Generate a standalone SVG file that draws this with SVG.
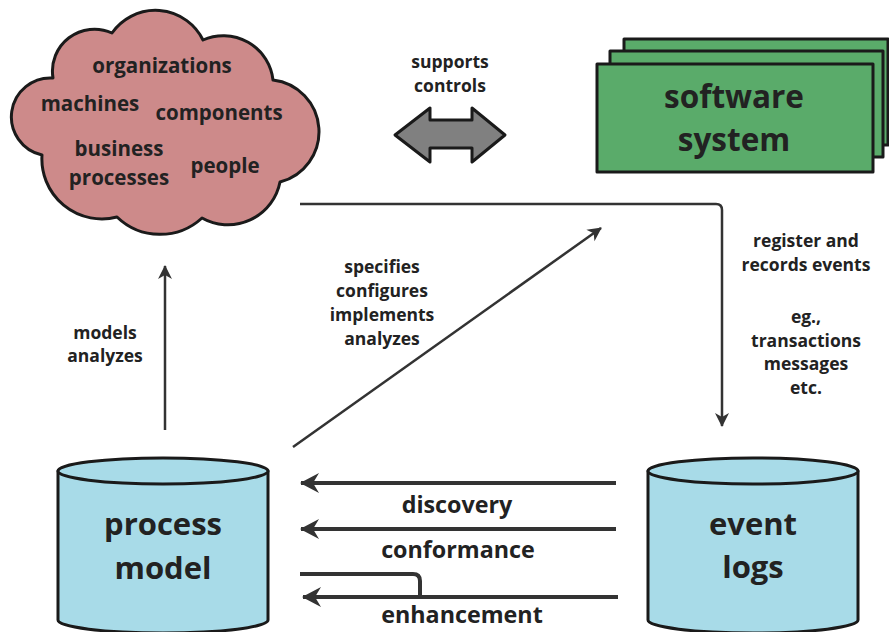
<svg xmlns="http://www.w3.org/2000/svg" width="889" height="632" viewBox="0 0 889 632">
  <style>
    .t { font-family: "Open Sans", "DejaVu Sans", sans-serif; font-weight: 700; fill: #222; text-anchor: middle; }
    .s16 { font-size: 17.5px; }
    .s18 { font-size: 20.5px; }
    .s22 { font-size: 23.3px; }
    .s29 { font-size: 31.5px; }
    .s30 { font-size: 31px; }
    .outline { stroke: #1a1a1a; stroke-width: 3; stroke-linejoin: round; }
    .thin { fill: none; stroke: #333; stroke-width: 2.5; }
    .thick { fill: none; stroke: #333; stroke-width: 4; }
  </style>
  <defs>
    <marker id="headS" viewBox="-14 -8 16 16" markerWidth="16" markerHeight="16" refX="0" refY="0" orient="auto" markerUnits="userSpaceOnUse">
      <path d="M1,0 L-13,-7 L-9,0 L-13,7 Z" fill="#333"/>
    </marker>
    <marker id="headL" viewBox="-20 -12 22 24" markerWidth="22" markerHeight="24" refX="0" refY="0" orient="auto" markerUnits="userSpaceOnUse">
      <path d="M1,0 L-18,-10 L-12,0 L-18,10 Z" fill="#333"/>
    </marker>
  </defs>

  <!-- real world cloud -->
  <g id="world">
    <path class="outline" fill="#cd8a8a" d="M53,78 A42,42 0 0 1 112,33 A53,53 0 0 1 203,40 A50,50 0 0 1 273,80 A52,52 0 0 1 280,182 A53,53 0 0 1 202,218 A62,62 0 0 1 117,217 A60,60 0 0 1 42,155 A39,39 0 0 1 53,78 Z"/>
    <text class="t s18" x="162" y="73">organizations</text>
    <text class="t s18" x="90" y="111">machines</text>
    <text class="t s18" x="219" y="120">components</text>
    <text class="t s18" x="119" y="156">business</text>
    <text class="t s18" x="119" y="185">processes</text>
    <text class="t s18" x="225" y="173">people</text>
  </g>

  <!-- two-way interaction between world and software -->
  <g id="interaction">
    <text class="t s16" x="450" y="68">supports</text>
    <text class="t s16" x="450" y="92">controls</text>
    <path class="outline" fill="#808080" d="M395,135 L430,108 L430,120 L472,120 L472,108 L505,135 L472,162 L472,148 L430,148 L430,162 Z"/>
  </g>

  <!-- software system stack -->
  <g id="software">
    <rect class="outline" fill="#5aab6a" x="624" y="39" width="264" height="106"/>
    <rect class="outline" fill="#5aab6a" x="610" y="51" width="273" height="106"/>
    <rect class="outline" fill="#5aab6a" x="597" y="64" width="276" height="108"/>
    <text class="t s29" x="734" y="108">software</text>
    <text class="t s29" x="734" y="151">system</text>
  </g>

  <!-- process model store -->
  <g id="process-model">
    <path class="outline" fill="#a8dbe8" d="M58,471 L58,620 A105,13 0 0 0 268,620 L268,471 Z"/>
    <ellipse class="outline" fill="#a8dbe8" cx="163" cy="471" rx="105" ry="13"/>
    <text class="t s30" x="163" y="535">process</text>
    <text class="t s30" x="163" y="579">model</text>
  </g>

  <!-- event log store -->
  <g id="event-logs">
    <path class="outline" fill="#a8dbe8" d="M648,471 L648,620 A105,13 0 0 0 858,620 L858,471 Z"/>
    <ellipse class="outline" fill="#a8dbe8" cx="753" cy="471" rx="105" ry="13"/>
    <text class="t s30" x="753" y="535">event</text>
    <text class="t s30" x="753" y="578">logs</text>
  </g>

  <!-- connectors -->
  <g id="connectors">
    <path class="thin" d="M165,430 L165,266" marker-end="url(#headS)"/>
    <path class="thin" d="M293,447 L601,228" marker-end="url(#headS)"/>
    <path class="thin" d="M300,204 L716,204 Q722,204 722,210 L722,426" marker-end="url(#headS)"/>
    <path class="thick" d="M616,483 L301,483" marker-end="url(#headL)"/>
    <path class="thick" d="M616,529 L301,529" marker-end="url(#headL)"/>
    <path class="thick" d="M618,597 L303,597" marker-end="url(#headL)"/>
    <path class="thick" d="M300,574 L413,574 Q420,574 420,581 L420,597"/>
  </g>

  <!-- connector labels -->
  <g id="labels">
    <text class="t s16" x="105" y="339">models</text>
    <text class="t s16" x="105" y="362">analyzes</text>
    <text class="t s16" x="382" y="273">specifies</text>
    <text class="t s16" x="382" y="297">configures</text>
    <text class="t s16" x="382" y="321">implements</text>
    <text class="t s16" x="382" y="345">analyzes</text>
    <text class="t s16" x="806" y="247">register and</text>
    <text class="t s16" x="806" y="271">records events</text>
    <text class="t s16" x="806" y="323">eg.,</text>
    <text class="t s16" x="806" y="347">transactions</text>
    <text class="t s16" x="806" y="370">messages</text>
    <text class="t s16" x="806" y="394">etc.</text>
    <text class="t s22" x="457" y="513">discovery</text>
    <text class="t s22" x="458" y="558">conformance</text>
    <text class="t s22" x="462" y="623">enhancement</text>
  </g>
</svg>
